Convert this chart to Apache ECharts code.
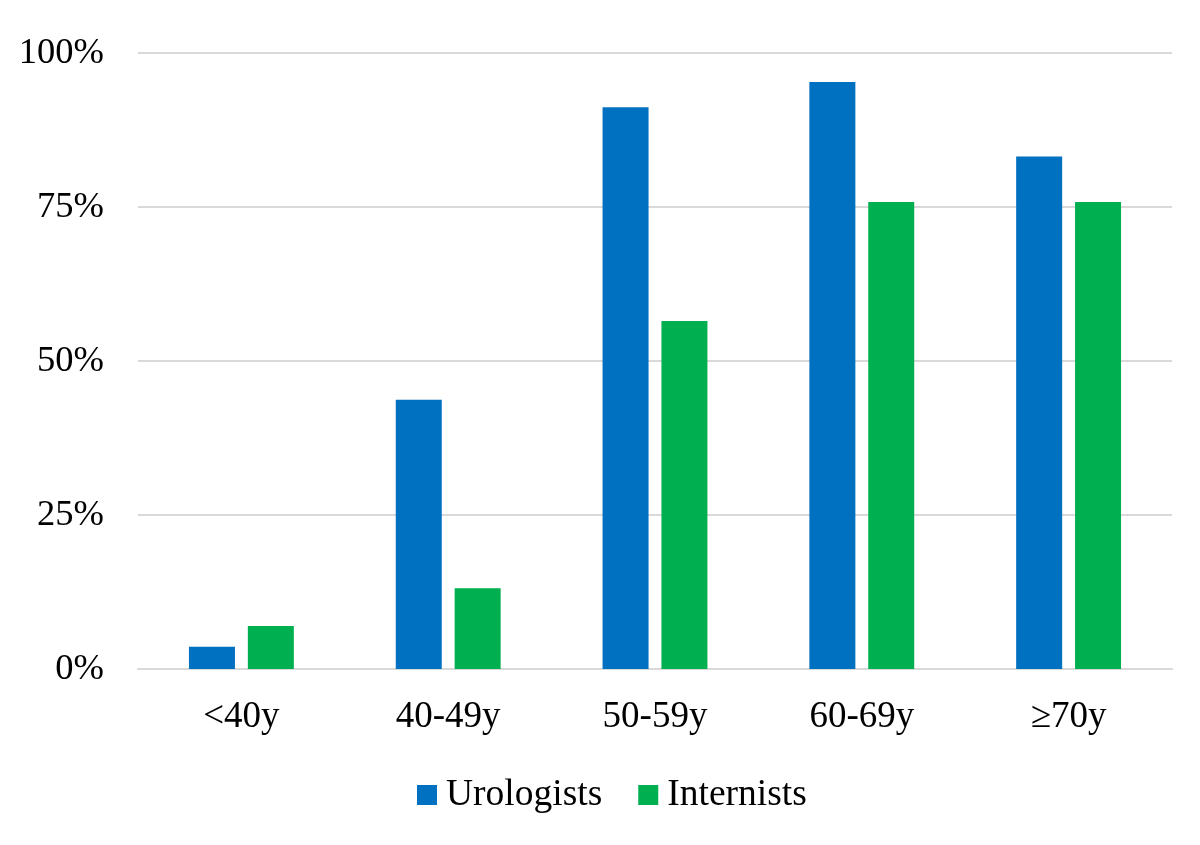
<!DOCTYPE html>
<html>
<head>
<meta charset="utf-8">
<script src="https://cdn.jsdelivr.net/npm/echarts@6/dist/echarts.min.js"></script>
<style>html,body{margin:0;padding:0;background:#fff}#c{width:1200px;height:845px}</style>
</head>
<body>
<div id="c"></div>
<script>
const categories = ['<40y', '40-49y', '50-59y', '60-69y', '≥70y'];
const urologists = [3.6, 43.7, 91.2, 95.3, 83.2];
const internists = [7.0, 13.1, 56.5, 75.8, 75.8];
const yTicks = [0, 25, 50, 75, 100];

const font = '"Liberation Serif", "Times New Roman", serif';
const chart = echarts.init(document.getElementById('c'));
chart.setOption({
  animation: false,
  grid: { left: 138, right: 28, top: 53, bottom: 176 },
  legend: {
    bottom: 26, left: 412, itemWidth: 20, itemHeight: 20, itemGap: 36,
    icon: 'rect',
    textStyle: { fontFamily: font, fontSize: 37.5, color: '#000', padding: [0, 0, 0, 4] },
    data: ['Urologists', 'Internists']
  },
  xAxis: {
    type: 'category', data: categories,
    axisLine: { lineStyle: { color: '#d9d9d9', width: 2 } },
    axisTick: { show: false },
    axisLabel: { fontFamily: font, fontSize: 37, color: '#000', margin: 30 }
  },
  yAxis: {
    type: 'value', min: yTicks[0], max: yTicks[yTicks.length - 1], interval: 25,
    axisLine: { show: false }, axisTick: { show: false },
    splitLine: { lineStyle: { color: '#d9d9d9', width: 2 } },
    axisLabel: { fontFamily: font, fontSize: 36.5, color: '#000', margin: 34, formatter: v => v + '%' }
  },
  series: [
    { name: 'Urologists', type: 'bar', data: urologists, barWidth: 46, barGap: '28%', itemStyle: { color: '#0070C0' } },
    { name: 'Internists', type: 'bar', data: internists, barWidth: 46, itemStyle: { color: '#00B050' } }
  ]
});
</script>
</body>
</html>
